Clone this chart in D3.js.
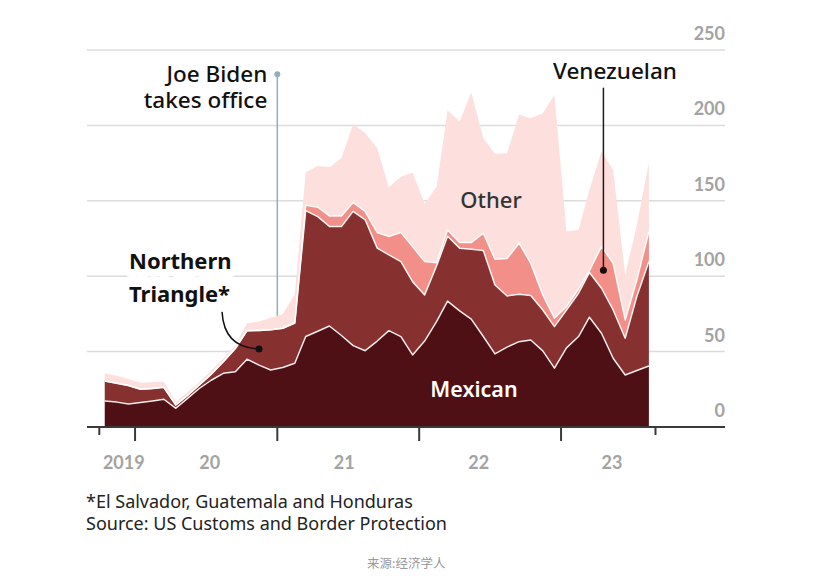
<!DOCTYPE html>
<html>
<head>
<meta charset="utf-8">
<script src="https://cdn.jsdelivr.net/npm/d3@7"></script>
<style>
  html, body { margin: 0; padding: 0; background: #fff; }
  svg { display: block; font-family: "Noto Sans", Lato, sans-serif; }
</style>
</head>
<body>
<svg id="chart" width="817" height="586"></svg>
<script>
// ---- data (thousands, monthly) ----
const months = ["2019-10","2019-11","2019-12","2020-01","2020-02","2020-03","2020-04","2020-05","2020-06","2020-07","2020-08","2020-09","2020-10","2020-11","2020-12","2021-01","2021-02","2021-03","2021-04","2021-05","2021-06","2021-07","2021-08","2021-09","2021-10","2021-11","2021-12","2022-01","2022-02","2022-03","2022-04","2022-05","2022-06","2022-07","2022-08","2022-09","2022-10","2022-11","2022-12","2023-01","2023-02","2023-03","2023-04","2023-05","2023-06","2023-07","2023-08"];
const mexican = [17.3,16.5,15.3,16.3,17.3,18.4,12.4,19,25.7,31,35.6,36.7,45,41,37.8,39.5,42.3,60,63.5,67,60.7,54,50.6,57,63.9,59.9,47.8,57,70,83.5,77,71.5,60,48.5,53,56.6,57.7,50.5,39,52.5,60,72.8,62.2,45.6,34.5,37.5,40.5];
const northernTriangle = [13.2,12.5,12.2,8.7,8.2,7.9,2.2,2,2.3,4,7.7,15.3,18.9,23,26.7,26,26.5,83.5,76,66,72.3,89,86.8,61.6,50.2,49.8,48.6,30.6,37,43,41.6,46.4,57,45.7,33.9,31.4,29.5,27.1,27.6,25.1,28.7,29.6,29.8,32,24.4,49,69.2];
const venezuelan = [0,0,0,0,0,0,0,0,0,0,0,0,0,0,0,0,0.5,3.5,6.3,7,7,5.8,5.5,10.4,12.2,19.3,23.2,22.1,2,4.2,3.7,4.4,11.5,17.1,24.8,33.9,21.4,10,5.5,2.2,2.8,1.3,27.6,31,12.1,11,19.9];
const other = [5.1,5,4.4,4.4,4.2,3.7,2.2,2,1.8,2.5,2.2,2,4.9,5.9,8,9.5,18.7,22,27.2,32.3,38.3,52.2,52.1,56,32.7,37,49.1,38.3,50.5,79.3,80.3,99.5,63,69.9,69.9,85.1,96.2,120.5,148.2,49.8,39.2,53.6,63.1,61.9,29.9,36.5,45.4];

const seriesKeys = ["mexican","northernTriangle","venezuelan","other"];
const seriesColors = ["#4e1014","#86312f","#f28f88","#fde0dd"];
const yTicks = [0,50,100,150,200,250];
const xTickDates = ["2019-10-01","2020-01-01","2021-01-01","2022-01-01","2023-01-01","2023-09-01"];
const xTickMajor = [false,true,true,true,true,false];
const xLabels = ["2019","20","21","22","23"];
const xLabelDates = ["2019-12-03","2020-07-11","2021-06-22","2022-06-03","2023-05-12"];

// ---- setup ----
const parse = d3.timeParse("%Y-%m-%d");
const table = months.map((m, i) => ({
  date: parse(m + "-15"),
  mexican: mexican[i], northernTriangle: northernTriangle[i],
  venezuelan: venezuelan[i], other: other[i]
}));

const svg = d3.select("#chart");
const x = d3.scaleTime()
  .domain([parse("2019-10-01"), parse("2023-09-01")])
  .range([99.3, 655.5]);
const y = d3.scaleLinear().domain([0, 250]).range([427, 50]);

const gridLeft = 87, gridRight = 725;
const axisFont = "Lato, 'Noto Sans', sans-serif";

// gridlines
svg.append("g").selectAll("line").data(yTicks.filter(d => d > 0)).join("line")
  .attr("x1", gridLeft).attr("x2", gridRight)
  .attr("y1", d => y(d)).attr("y2", d => y(d))
  .attr("stroke", "#dcdcdc").attr("stroke-width", 1.5);

// y labels
svg.append("g").selectAll("text").data(yTicks).join("text")
  .attr("x", gridRight).attr("y", d => y(d) - 10)
  .attr("text-anchor", "end").attr("font-family", axisFont)
  .attr("font-size", 18).attr("font-weight", 700).attr("fill", "#a3a3a3")
  .text(d => d);

// Biden line (behind areas)
const bidenX = x(parse("2021-01-01"));
svg.append("line")
  .attr("x1", bidenX).attr("x2", bidenX)
  .attr("y1", y(234)).attr("y2", y(0))
  .attr("stroke", "#93adbb").attr("stroke-width", 1.5);
svg.append("circle").attr("cx", bidenX).attr("cy", y(234)).attr("r", 3).attr("fill", "#93adbb");

// stacked areas
const stack = d3.stack().keys(seriesKeys);
const layers = stack(table);
const area = d3.area()
  .x(d => x(d.data.date))
  .y0(d => y(d[0])).y1(d => y(d[1]));
svg.append("g").selectAll("path").data(layers).join("path")
  .attr("d", area)
  .attr("fill", (d, i) => seriesColors[i]);

const topLine = d3.line().x(d => x(d.data.date)).y(d => y(d[1]));
svg.append("g").selectAll("path").data(layers.slice(0, 3)).join("path")
  .attr("d", topLine)
  .attr("fill", "none").attr("stroke", "#fff").attr("stroke-width", 1.5)
  .attr("stroke-opacity", 0.9).attr("stroke-linejoin", "round");

// x axis
svg.append("line").attr("x1", gridLeft).attr("x2", gridRight)
  .attr("y1", y(0)).attr("y2", y(0))
  .attr("stroke", "#3a3a3a").attr("stroke-width", 2);
svg.append("g").selectAll("line").data(xTickDates).join("line")
  .attr("x1", d => x(parse(d))).attr("x2", d => x(parse(d)))
  .attr("y1", y(0)).attr("y2", (d, i) => y(0) + (xTickMajor[i] ? 14 : 8))
  .attr("stroke", "#3a3a3a").attr("stroke-width", 2);
svg.append("g").selectAll("text").data(xLabels).join("text")
  .attr("x", (d, i) => x(parse(xLabelDates[i])))
  .attr("y", 469)
  .attr("text-anchor", "middle").attr("font-family", axisFont)
  .attr("font-size", 18).attr("font-weight", 700).attr("fill", "#a3a3a3")
  .text(d => d);

// annotations
svg.append("text").attr("x", bidenX - 10).attr("text-anchor", "end")
  .attr("font-size", 22.5).attr("font-weight", 500).attr("fill", "#111")
  .selectAll("tspan").data(["Joe Biden", "takes office"]).join("tspan")
  .attr("x", bidenX - 10).attr("y", (d, i) => 82 + i * 26).text(d => d);

svg.append("text").attr("font-size", 22).attr("font-weight", 700).attr("fill", "#111")
  .attr("stroke", "#fff").attr("stroke-width", 16).attr("stroke-linejoin", "round")
  .attr("paint-order", "stroke")
  .selectAll("tspan").data(["Northern", "Triangle*"]).join("tspan")
  .attr("x", 129).attr("y", (d, i) => 269 + i * 33).text(d => d);

const ntDotX = x(parse("2020-11-15")), ntDotY = y(51.8);
svg.append("path")
  .attr("d", `M${ntDotX - 37},${ntDotY - 37} Q${ntDotX - 35},${ntDotY - 1} ${ntDotX},${ntDotY}`)
  .attr("fill", "none").attr("stroke", "#111").attr("stroke-width", 1.5);
svg.append("circle").attr("cx", ntDotX).attr("cy", ntDotY).attr("r", 3.5).attr("fill", "#111");

const venDotX = x(parse("2023-04-20")), venDotY = y(104);
svg.append("line").attr("x1", venDotX).attr("x2", venDotX)
  .attr("y1", y(225)).attr("y2", venDotY)
  .attr("stroke", "#2a1515").attr("stroke-width", 1.5);
svg.append("circle").attr("cx", venDotX).attr("cy", venDotY).attr("r", 3.5).attr("fill", "#1a0a0a");
svg.append("text").attr("x", 553).attr("y", 79)
  .attr("font-size", 22.5).attr("font-weight", 500).attr("fill", "#111").text("Venezuelan");

svg.append("text").attr("x", 491).attr("y", 208).attr("text-anchor", "middle")
  .attr("font-size", 22).attr("font-weight", 500).attr("fill", "#333").text("Other");
svg.append("text").attr("x", 474).attr("y", 397).attr("text-anchor", "middle")
  .attr("font-size", 21.5).attr("font-weight", 600).attr("fill", "#fff").text("Mexican");

// footnotes
svg.append("text").attr("x", 86).attr("y", 508).attr("font-size", 18).attr("fill", "#222")
  .text("*El Salvador, Guatemala and Honduras");
svg.append("text").attr("x", 86).attr("y", 530).attr("font-size", 18).attr("fill", "#222")
  .text("Source: US Customs and Border Protection");
svg.append("text").attr("x", 367).attr("y", 568).attr("font-size", 12.5)
  .attr("font-family", "'Noto Sans CJK SC', sans-serif").attr("fill", "#999")
  .text("来源:经济学人");
</script>
</body>
</html>
